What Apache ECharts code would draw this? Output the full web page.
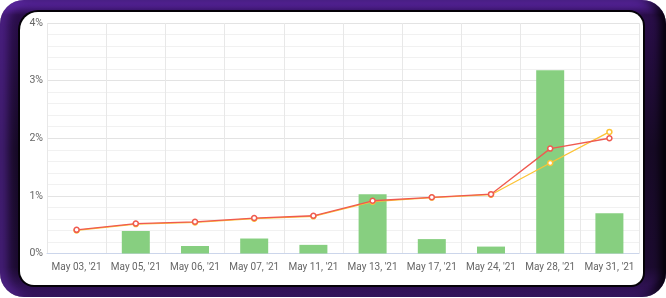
<!DOCTYPE html>
<html>
<head>
<meta charset="utf-8">
<script src="https://cdn.jsdelivr.net/npm/echarts@6/dist/echarts.min.js"></script>
<style>
  html, body { margin: 0; padding: 0; background: #fff; }
  .frame {
    position: absolute; left: 0; top: 0; width: 666px; height: 297px;
    border-radius: 24px;
    background: linear-gradient(180deg, #6a2cc0 0%, #2a0e4a 5%, #170a26 50%, #1c0b30 90%, #3a1666 100%);
    box-shadow: inset 8px 0 10px rgba(110, 50, 190, 0.5), inset -6px 0 8px rgba(0, 0, 0, 0.85);
  }
  .panel {
    position: absolute; left: 20px; top: 12px; width: 623px; height: 273px;
    border-radius: 18px 14px 12px 14px;
    background: #fff;
    box-shadow: 0 0 0 2px #050208;
  }
  #chart { position: absolute; left: 0; top: 0; width: 666px; height: 298px; }
</style>
</head>
<body>
<div class="frame"></div>
<div class="panel"></div>
<div id="chart"></div>
<script>
// 日期
var categories = ["May 03, '21", "May 05, '21", "May 06, '21", "May 07, '21", "May 11, '21",
  "May 13, '21", "May 17, '21", "May 24, '21", "May 28, '21", "May 31, '21"];
// 柱状图
var barValues = [0, 0.39, 0.13, 0.26, 0.15, 1.03, 0.25, 0.12, 3.18, 0.70];
// 红线
var redValues = [0.41, 0.52, 0.55, 0.615, 0.655, 0.915, 0.975, 1.03, 1.82, 2.0];
// 黄线
var yellowValues = [0.40, 0.51, 0.54, 0.605, 0.645, 0.90, 0.97, 1.02, 1.57, 2.11];

var chart = echarts.init(document.getElementById('chart'));

var option = {
  animation: false,
  grid: { left: 47, right: 27, top: 23, bottom: 44.5 },
  xAxis: {
    type: 'category',
    data: categories,
    axisLine: { lineStyle: { color: '#ccd6eb', width: 1 } },
    axisTick: { show: false },
    axisLabel: { interval: 0, color: '#666', fontSize: 10, fontFamily: 'Roboto', margin: 9 },
    splitLine: { show: true, interval: 0, lineStyle: { color: '#e8e8e8', width: 1 } }
  },
  yAxis: {
    type: 'value',
    min: 0,
    max: 4,
    interval: 1,
    axisLabel: {
      color: '#666', fontSize: 10.5, fontFamily: 'Roboto', margin: 4,
      formatter: function (v) { return v + '%'; }
    },
    splitLine: { lineStyle: { color: '#e3e3e3', width: 1 } },
    minorTick: { show: false, splitNumber: 5 },
    minorSplitLine: { show: true, lineStyle: { color: '#f1f1f1', width: 1 } }
  },
  series: [{
    name: 'bar',
    type: 'bar',
    data: barValues,
    barWidth: 28,
    itemStyle: { color: '#87cf80' },
    z: 1
  }, {
    name: 'yellow',
    type: 'line',
    data: yellowValues,
    symbol: 'circle',
    symbolSize: 5,
    lineStyle: { color: '#fcc335', width: 1.3 },
    itemStyle: { color: '#fff', borderColor: '#fcc335', borderWidth: 1.5 },
    z: 3
  }, {
    name: 'red',
    type: 'line',
    data: redValues,
    symbol: 'circle',
    symbolSize: 5,
    lineStyle: { color: '#ef5a50', width: 1.3 },
    itemStyle: { color: '#fff', borderColor: '#ef5a50', borderWidth: 1.5 },
    z: 4
  }]
};
chart.setOption(option);
</script>
</body>
</html>
